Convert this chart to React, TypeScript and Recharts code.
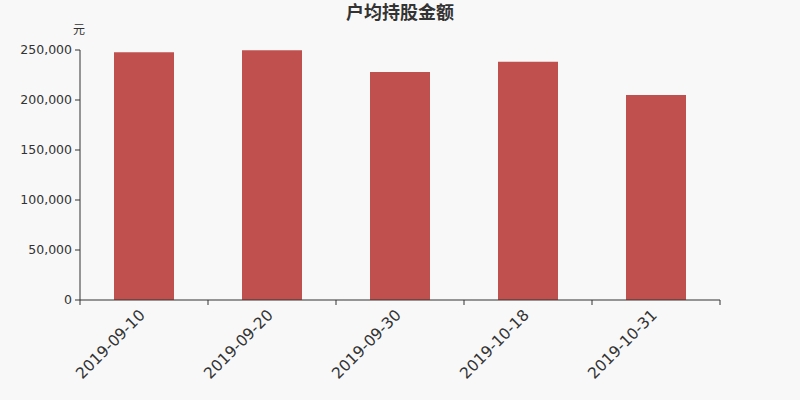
import React from 'react';
import { BarChart, Bar, XAxis, YAxis } from 'recharts';

const dates = ['2019-09-10', '2019-09-20', '2019-09-30', '2019-10-18', '2019-10-31'];
const amounts = [247700, 249800, 228000, 238300, 205000];
const yTicks = [0, 50000, 100000, 150000, 200000, 250000];

const data = dates.map((d, i) => ({ date: d, amount: amounts[i] }));

const FONT = '"DejaVu Sans", "Noto Sans CJK SC", sans-serif';
const W = 800;
const H = 400;
const LEFT = 80;
const RIGHT = 80;
const HALF_BAND = (W - LEFT - RIGHT) / dates.length / 2;

// x/y come in at the axis line because tickSize and tickMargin are 0
function DateTick(props: any) {
    const { x, y, payload, index } = props;
    const ax = x + 2;
    const ay = y + 16;
    return (
        <g>
            <line x1={x - HALF_BAND} y1={y} x2={x - HALF_BAND} y2={y + 5} stroke="#333" />
            {index === dates.length - 1 && (
                <line x1={x + HALF_BAND} y1={y} x2={x + HALF_BAND} y2={y + 5} stroke="#333" />
            )}
            <text
                x={ax}
                y={ay}
                transform={`rotate(-45, ${ax}, ${ay})`}
                textAnchor="end"
                fontSize={15.5}
                fontFamily={FONT}
                fill="#333"
            >
                {payload.value}
            </text>
        </g>
    );
}

export default function App() {
    return (
        <div style={{ position: 'absolute', left: 0, top: 0, width: W, height: H, background: '#f8f8f8', fontFamily: FONT }}>
            <div style={{ position: 'absolute', top: 1, width: W, textAlign: 'center', fontSize: 18, fontWeight: 'bold', color: '#333', lineHeight: '24px' }}>
                户均持股金额
            </div>
            <div style={{ position: 'absolute', left: 73, top: 20, fontSize: 12, color: '#333' }}>元</div>
            <BarChart width={W} height={H} data={data} margin={{ top: 50, right: RIGHT, bottom: 0, left: 0 }} barCategoryGap={34}>
                <XAxis
                    dataKey="date"
                    height={100}
                    tickLine={false}
                    tickSize={0}
                    tickMargin={0}
                    axisLine={{ stroke: '#333' }}
                    tick={<DateTick />}
                    interval={0}
                />
                <YAxis
                    width={LEFT}
                    domain={[0, 250000]}
                    ticks={yTicks}
                    tickSize={5}
                    tickMargin={3}
                    tickLine={{ stroke: '#333' }}
                    axisLine={{ stroke: '#333' }}
                    tick={{ fontSize: 12.5, fill: '#333', fontFamily: FONT }}
                    tickFormatter={(v: number) => v.toLocaleString('en-US')}
                />
                <Bar dataKey="amount" fill="#c0504d" isAnimationActive={false} />
            </BarChart>
        </div>
    );
}
